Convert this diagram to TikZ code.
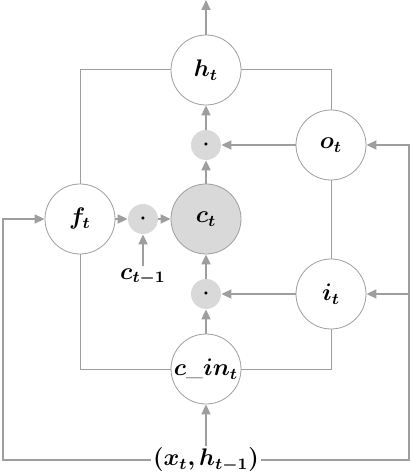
\documentclass[tikz,border=0pt]{standalone}
\usepackage{bm}
\usetikzlibrary{arrows.meta}

\definecolor{linegray}{gray}{0.62}
\definecolor{cellgray}{gray}{0.85}

\tikzset{
  unit/.style={circle, draw=linegray, fill=white, minimum size=35pt, inner sep=0pt, font=\fontsize{11.5}{14}\selectfont},
  prod/.style={circle, fill=cellgray, minimum size=15pt, inner sep=0pt},
  lbl/.style={inner sep=1pt, font=\fontsize{11.5}{14}\selectfont},
  arr/.style={draw=linegray, line width=0.9pt, -{Triangle[length=5pt,width=4.5pt]}},
  wire/.style={draw=linegray, line width=0.5pt},
}

\begin{document}
\begin{tikzpicture}[x=0.5pt, y=-0.5pt]
  \useasboundingbox (0,0) rectangle (410,474);

  % units
  \node[unit] (h) at (206,70) {$\bm{h_t}$};
  \node[unit] (o) at (331,145) {$\bm{o_t}$};
  \node[unit] (f) at (80,219) {$\bm{f_t}$};
  \node[unit, fill=cellgray] (c) at (206,219) {$\bm{c_t}$};
  \node[unit] (i) at (331,294) {$\bm{i_t}$};
  \node[unit] (cin) at (206,369) {$\bm{c\_in_t}$};

  % products
  \node[prod] (mo) at (206,145) {$\bm{\cdot}$};
  \node[prod] (mf) at (143,219) {$\bm{\cdot}$};
  \node[prod] (mi) at (206,294) {$\bm{\cdot}$};

  \node[lbl] (cprev) at (143,277) {$\bm{c_{t-1}}$};
  \node[lbl] (x) at (206,460) {$\bm{(x_t, h_{t-1})}$};
  \coordinate (top) at (206,0);
  \coordinate (xl) at (3,460);
  \coordinate (xr) at (409,460);
  \coordinate (ir) at (409,294);

  % plain wires
  \draw[wire] (h.west) -| (f.north);
  \draw[wire] (h.east) -| (o.north);
  \draw[wire] (o.south) -- (i.north);
  \draw[wire] (f.south) |- (cin.west);
  \draw[wire] (i.south) |- (cin.east);

  % arrows
  \draw[arr] (h.north) -- (top);
  \draw[arr] (mo) -- (h);
  \draw[arr] (c) -- (mo);
  \draw[arr] (o) -- (mo);
  \draw[arr] (f) -- (mf);
  \draw[arr] (mf) -- (c);
  \draw[arr] (cprev) -- (mf);
  \draw[arr] (mi) -- (c);
  \draw[arr] (i) -- (mi);
  \draw[arr] (cin) -- (mi);
  \draw[arr] (x) -- (cin);

  % inputs
  \draw[arr, line width=0.7pt] (x.west) -- (xl) |- (f.west);
  \draw[arr, line width=0.7pt] (x.east) -- (xr) |- (o.east);
  \draw[arr, line width=0.7pt] (ir) -- (i.east);
\end{tikzpicture}
\end{document}
